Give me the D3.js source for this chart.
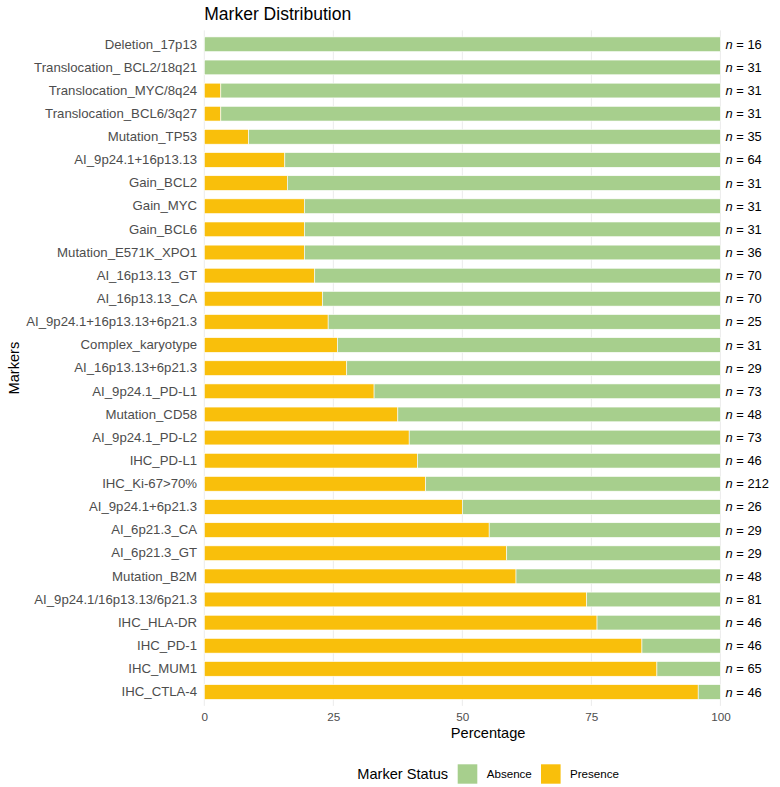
<!DOCTYPE html>
<html>
<head>
<meta charset="utf-8">
<script src="https://cdn.jsdelivr.net/npm/d3@7"></script>
<style>
  body { margin: 0; background: #fff; }
  svg { font-family: "Liberation Sans", Arial, sans-serif; }
</style>
</head>
<body>
<svg width="780" height="787"></svg>
<script>
// data, top row first
var markers = ["Deletion_17p13", "Translocation_ BCL2/18q21", "Translocation_MYC/8q24",
  "Translocation_BCL6/3q27", "Mutation_TP53", "AI_9p24.1+16p13.13", "Gain_BCL2", "Gain_MYC",
  "Gain_BCL6", "Mutation_E571K_XPO1", "AI_16p13.13_GT", "AI_16p13.13_CA",
  "AI_9p24.1+16p13.13+6p21.3", "Complex_karyotype", "AI_16p13.13+6p21.3", "AI_9p24.1_PD-L1",
  "Mutation_CD58", "AI_9p24.1_PD-L2", "IHC_PD-L1", "IHC_Ki-67>70%", "AI_9p24.1+6p21.3",
  "AI_6p21.3_CA", "AI_6p21.3_GT", "Mutation_B2M", "AI_9p24.1/16p13.13/6p21.3", "IHC_HLA-DR",
  "IHC_PD-1", "IHC_MUM1", "IHC_CTLA-4"];
var presence = [0, 0, 3.2, 3.2, 8.6, 15.6, 16.1, 19.4, 19.4, 19.4, 21.4, 22.9, 24.0, 25.8, 27.6,
  32.9, 37.5, 39.7, 41.3, 42.9, 50.0, 55.2, 58.6, 60.4, 74.1, 76.1, 84.8, 87.7, 95.7];
var absence = [100, 100, 96.8, 96.8, 91.4, 84.4, 83.9, 80.6, 80.6, 80.6, 78.6, 77.1, 76.0, 74.2, 72.4,
  67.1, 62.5, 60.3, 58.7, 57.1, 50.0, 44.8, 41.4, 39.6, 25.9, 23.9, 15.2, 12.3, 4.3];
var counts = [16, 31, 31, 31, 35, 64, 31, 31, 31, 36, 70, 70, 25, 31, 29, 73, 48, 73, 46, 212,
  26, 29, 29, 48, 81, 46, 46, 65, 46];
var xTicks = [0, 25, 50, 75, 100];
var statuses = ["Absence", "Presence"];
var colors = ["#a7cf8d", "#f9bf0b"];

function main() {
  var svg = d3.select("svg");
  var pLeft = 204.3, pRight = 772, pTop = 30.4, pBottom = 705.9;

  var x = d3.scaleLinear().domain([0, 110]).range([pLeft, pRight]);
  var y = d3.scaleBand().domain(markers).range([pTop, pBottom])
      .paddingInner(0.364).paddingOuter(0.282);
  var color = d3.scaleOrdinal().domain(statuses).range(colors);

  var rows = markers.map(function(m, i) {
    return { marker: m, Presence: presence[i], Absence: absence[i], n: counts[i] };
  });

  // grid
  svg.append("g").selectAll("line")
     .data(xTicks).enter().append("line")
     .attr("x1", function(d) { return x(d); })
     .attr("x2", function(d) { return x(d); })
     .attr("y1", pTop).attr("y2", pBottom)
     .attr("stroke", "#ebebeb").attr("stroke-width", 1);

  // bars, presence drawn from 0
  var stack = d3.stack().keys(["Presence", "Absence"]);
  svg.append("g").selectAll("g")
     .data(stack(rows)).enter().append("g")
     .attr("fill", function(d) { return color(d.key); })
     .selectAll("rect")
     .data(function(d) { return d; }).enter().append("rect")
     .attr("x", function(d) { return x(d[0]); })
     .attr("y", function(d) { return y(d.data.marker); })
     .attr("width", function(d) { return Math.max(0, x(d[1]) - x(d[0])); })
     .attr("height", y.bandwidth())
     .attr("stroke", "#fff").attr("stroke-width", 0.6);

  // n labels
  var nl = svg.append("g").selectAll("text")
     .data(rows).enter().append("text")
     .attr("x", x(101))
     .attr("y", function(d) { return y(d.marker) + y.bandwidth() / 2; })
     .attr("dy", "0.35em")
     .attr("font-size", "12.9px")
     .attr("fill", "#000");
  nl.append("tspan").attr("font-style", "italic").text("n");
  nl.append("tspan").text(function(d) { return " = " + d.n; });

  // y axis
  var yAxis = svg.append("g")
     .attr("transform", "translate(" + (pLeft - 2.2) + ",0)")
     .call(d3.axisLeft(y).tickSize(0).tickPadding(5));
  yAxis.select(".domain").remove();
  yAxis.selectAll("text").attr("font-size", "13.2px").attr("fill", "#4d4d4d")
       .attr("font-family", "Liberation Sans, Arial, sans-serif");

  // x axis
  var xAxis = svg.append("g")
     .attr("transform", "translate(0," + pBottom + ")")
     .call(d3.axisBottom(x).tickValues(xTicks).tickSize(0).tickPadding(7));
  xAxis.select(".domain").remove();
  xAxis.selectAll("text").attr("font-size", "11.7px").attr("fill", "#4d4d4d")
       .attr("font-family", "Liberation Sans, Arial, sans-serif");

  svg.append("text")
     .attr("x", (pLeft + pRight) / 2).attr("y", 737.5)
     .attr("text-anchor", "middle").attr("font-size", "14.6px")
     .text("Percentage");

  svg.append("text")
     .attr("transform", "translate(18.5," + ((pTop + pBottom) / 2) + ") rotate(-90)")
     .attr("text-anchor", "middle").attr("font-size", "14.6px")
     .text("Markers");

  svg.append("text")
     .attr("x", pLeft).attr("y", 20)
     .attr("font-size", "17.5px")
     .text("Marker Distribution");

  // legend
  var lg = svg.append("g").attr("transform", "translate(357.3,774)");
  lg.append("text").attr("dy", "0.35em").attr("font-size", "14.6px")
    .text("Marker Status");
  var items = lg.selectAll("g.item").data(statuses).enter().append("g")
    .attr("class", "item")
    .attr("transform", function(d, i) { return "translate(" + (100.4 + i * 83.3) + ",0)"; });
  items.append("rect").attr("x", 0).attr("y", -9.7).attr("width", 19.6).attr("height", 19.4)
    .attr("fill", function(d) { return color(d); });
  items.append("text").attr("x", 29).attr("dy", "0.35em").attr("font-size", "11.6px")
    .attr("fill", "#000").text(function(d) { return d; });
}
main();
</script>
</body>
</html>
